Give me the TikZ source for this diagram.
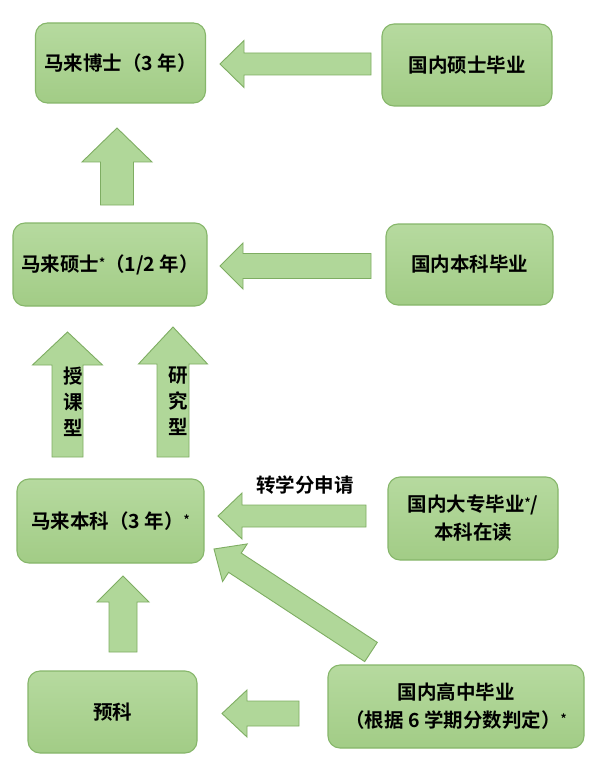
\documentclass[tikz,border=0pt]{standalone}
\usepackage{fontspec}
\setmainfont{Noto Sans CJK SC}[BoldFont={Noto Sans CJK SC Bold}]
\usetikzlibrary{calc}
\definecolor{boxtop}{HTML}{B6DA9F}
\definecolor{boxbot}{HTML}{A2CC86}
\definecolor{boxline}{HTML}{86B66A}
\definecolor{arrfill}{HTML}{B0D799}
\definecolor{arrline}{HTML}{7EAD62}
\tikzset{
  box/.style={draw=boxline, line width=1.1pt, rounded corners=12pt,
    top color=boxtop, bottom color=boxbot, align=center, inner sep=0pt,
    font=\fontsize{19.5}{28}\selectfont\bfseries},
  arrowstyle/.style={draw=arrline, line width=0.9pt, fill=arrfill, line join=miter},
  lbl/.style={align=center, inner sep=0pt, font=\fontsize{19.5}{26}\selectfont\bfseries}
}
\newcommand\blockarrow[5]{% tail, tip, shaft half width, head half width, head length
  \coordinate (bneck) at ($(#2)!#5!(#1)$);
  \draw[arrowstyle] ($(#1)!#3!90:(#2)$) -- ($(bneck)!#3!-90:(#1)$)
    -- ($(bneck)!#4!-90:(#1)$) -- (#2) -- ($(bneck)!#4!90:(#1)$)
    -- ($(bneck)!#3!90:(#1)$) -- ($(#1)!#3!-90:(#2)$) -- cycle;}
\newcommand\astk{\raisebox{4pt}{\fontsize{12}{12}\selectfont *}}
\begin{document}
\begin{tikzpicture}[x=1pt,y=-1pt]
\useasboundingbox (0,0) rectangle (600,778);
\fill[white] (0,0) rectangle (600,778);

% boxes
\node[box, minimum width=170pt, minimum height=80pt] (phd) at (120.5,63) {马来博士（3 年）};
\node[box, minimum width=170pt, minimum height=82pt] (dmsc) at (467,65) {国内硕士毕业};
\node[box, minimum width=194pt, minimum height=83pt] (msc) at (110,264.5) {马来硕士\astk（1/2 年）};
\node[box, minimum width=167pt, minimum height=81pt] (dbsc) at (469.5,264.5) {国内本科毕业};
\node[box, minimum width=187pt, minimum height=84pt] (bsc) at (110.5,521) {马来本科（3 年）\astk};
\node[box, minimum width=170pt, minimum height=83pt] (dipl) at (473,518.5) {国内大专毕业\astk/\\本科在读};
\node[box, minimum width=169pt, minimum height=82pt] (prep) at (112.5,712) {预科};
\node[box, minimum width=256pt, minimum height=83pt] (high) at (456,706.5) {国内高中毕业\\（根据 6 学期分数判定）\astk};

% arrow end points
\coordinate (a1t) at (371,64);   \coordinate (a1h) at (220,64);
\coordinate (a2t) at (371,266);  \coordinate (a2h) at (220,266);
\coordinate (a3t) at (117,205);  \coordinate (a3h) at (117,128);
\coordinate (a4t) at (67.5,457); \coordinate (a4h) at (67.5,332);
\coordinate (a5t) at (173,457);  \coordinate (a5h) at (173,327);
\coordinate (a6t) at (366,516);  \coordinate (a6h) at (218,516);
\coordinate (a7t) at (371,652);  \coordinate (a7h) at (214,549);
\coordinate (a8t) at (123,652);  \coordinate (a8h) at (123,576);
\coordinate (a9t) at (299,713.5);\coordinate (a9h) at (222,713.5);

\blockarrow{a1t}{a1h}{11pt}{23.5pt}{24pt}
\blockarrow{a2t}{a2h}{12.5pt}{23pt}{23pt}
\blockarrow{a3t}{a3h}{16.5pt}{35pt}{34pt}
\blockarrow{a4t}{a4h}{15.5pt}{35pt}{33pt}
\blockarrow{a5t}{a5h}{16pt}{34.5pt}{37pt}
\blockarrow{a6t}{a6h}{11pt}{23pt}{24pt}
\blockarrow{a7t}{a7h}{11.5pt}{22.5pt}{25pt}
\blockarrow{a8t}{a8h}{14pt}{26pt}{26pt}
\blockarrow{a9t}{a9h}{12.5pt}{23.5pt}{25pt}

% labels
\node[lbl] (l1) at (73,402) {授\\课\\型};
\node[lbl] (l2) at (178,401) {研\\究\\型};
\node[lbl] (l3) at (305,485) {转学分申请};
\end{tikzpicture}
\end{document}
